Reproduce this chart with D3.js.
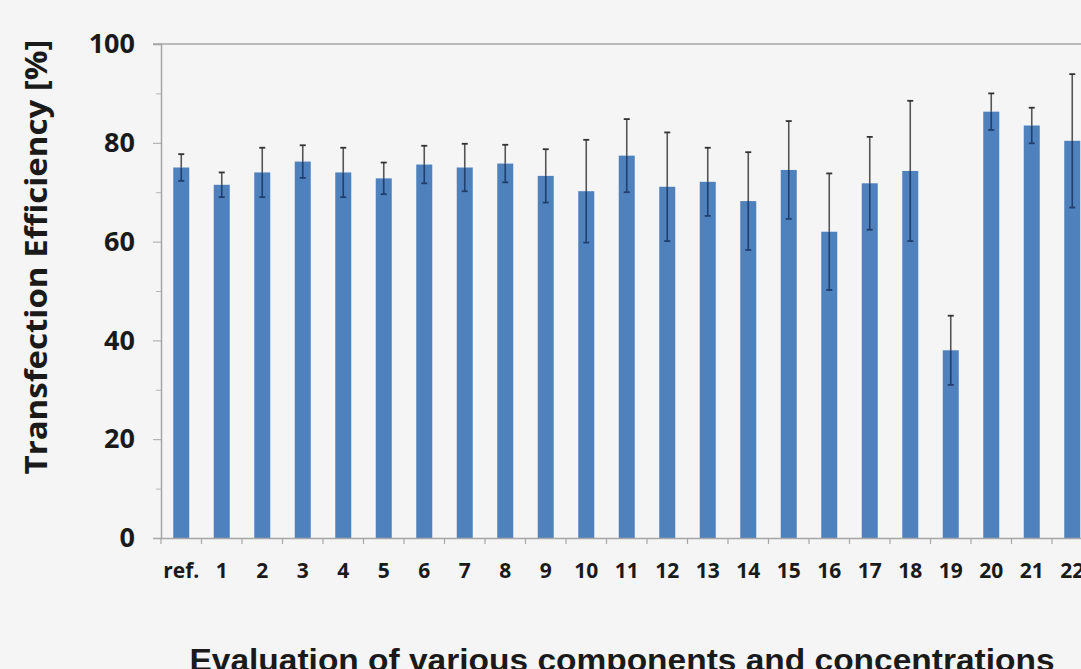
<!DOCTYPE html>
<html>
<head>
<meta charset="utf-8">
<script src="https://cdn.jsdelivr.net/npm/d3@7"></script>
<style>
  html, body { margin: 0; padding: 0; background: #f5f5f5; }
  svg { display: block; }
</style>
</head>
<body>
<svg id="chart" width="1081" height="669"></svg>
<script>
// Transfection efficiency per condition, mean and error (± %)
const categories = ["ref.", "1", "2", "3", "4", "5", "6", "7", "8", "9", "10", "11",
                    "12", "13", "14", "15", "16", "17", "18", "19", "20", "21", "22"];
const efficiency = [75, 71.5, 74, 76.2, 74, 72.8, 75.6, 75, 75.8, 73.3, 70.2, 77.4,
                    71.1, 72.1, 68.2, 74.5, 62, 71.8, 74.3, 38, 86.3, 83.5, 80.4];
const errors = [2.7, 2.5, 5, 3.3, 5, 3.2, 3.8, 4.8, 3.8, 5.4, 10.4, 7.4,
                11, 6.9, 9.9, 9.9, 11.8, 9.4, 14.2, 7, 3.7, 3.6, 13.5];
const yTicks = [0, 20, 40, 60, 80, 100];
const yMinorTicks = [10, 30, 50, 70, 90];

const svg = d3.select("#chart");
const W = 1081, H = 669;

const plotLeft = 161, plotTop = 44, plotBottom = 538;
const bandStep = 40.5;
const plotRight = plotLeft + bandStep * categories.length;

const x = d3.scaleBand().domain(categories).range([plotLeft, plotRight]).paddingInner(0).paddingOuter(0);
const y = d3.scaleLinear().domain([0, 100]).range([plotBottom, plotTop]);

const barW = 16;
const barColor = "#4f81bd";

// top border line at 100
svg.append("line")
  .attr("x1", plotLeft - 8).attr("x2", W)
  .attr("y1", y(100)).attr("y2", y(100))
  .attr("stroke", "#a6a6a6").attr("stroke-width", 1.5);

// bars
svg.append("g").selectAll("rect")
  .data(categories)
  .join("rect")
  .attr("x", (d) => x(d) + x.bandwidth() / 2 - barW / 2)
  .attr("y", (d, i) => y(efficiency[i]))
  .attr("width", barW)
  .attr("height", (d, i) => y(0) - y(efficiency[i]))
  .attr("fill", barColor);

// error bars
const eg = svg.append("g");
categories.forEach((c, i) => {
  const cx = x(c) + x.bandwidth() / 2;
  const hi = y(efficiency[i] + errors[i]);
  const lo = y(efficiency[i] - errors[i]);
  const mid = y(efficiency[i]);
  // upper whisker above the bar
  eg.append("line").attr("x1", cx).attr("x2", cx).attr("y1", hi).attr("y2", mid)
    .attr("stroke", "#555").attr("stroke-width", 1.6);
  // lower whisker inside the bar
  eg.append("line").attr("x1", cx).attr("x2", cx).attr("y1", mid).attr("y2", lo)
    .attr("stroke", "#1f3f6e").attr("stroke-width", 1.6);
  eg.append("line").attr("x1", cx - 3).attr("x2", cx + 3).attr("y1", hi).attr("y2", hi)
    .attr("stroke", "#333").attr("stroke-width", 1.8);
  eg.append("line").attr("x1", cx - 3).attr("x2", cx + 3).attr("y1", lo).attr("y2", lo)
    .attr("stroke", "#1f3f6e").attr("stroke-width", 1.8);
});

// y axis
const yAxis = svg.append("g").attr("transform", `translate(${plotLeft},0)`)
  .call(d3.axisLeft(y).tickValues(yTicks).tickSize(8).tickPadding(18).tickFormat(d3.format("d")));
yAxis.select(".domain").attr("stroke", "#a6a6a6").attr("stroke-width", 1.5);
yAxis.selectAll(".tick line").attr("stroke", "#a6a6a6");
yAxis.selectAll(".tick text")
  .attr("font-family", "'Open Sans', sans-serif").attr("font-weight", "bold")
  .attr("font-size", 27).attr("fill", "#1a1a1a");
svg.append("g").attr("transform", `translate(${plotLeft},0)`)
  .call(d3.axisLeft(y).tickValues(yMinorTicks).tickSize(5).tickFormat(""))
  .call((g) => g.select(".domain").remove())
  .selectAll(".tick line").attr("stroke", "#b5b5b5");

// x axis
const xAxis = svg.append("g").attr("transform", `translate(0,${plotBottom})`)
  .call(d3.axisBottom(x).tickSize(0).tickPadding(25));
xAxis.select(".domain").attr("stroke", "#a6a6a6").attr("stroke-width", 1.5);
xAxis.selectAll(".tick text")
  .attr("font-family", "'Open Sans', sans-serif").attr("font-weight", "bold")
  .attr("font-size", 21).attr("fill", "#1a1a1a");
// boundary ticks between categories
svg.append("g").selectAll("line")
  .data(categories)
  .join("line")
  .attr("x1", (d) => x(d)).attr("x2", (d) => x(d))
  .attr("y1", plotBottom).attr("y2", plotBottom + 6)
  .attr("stroke", "#a6a6a6").attr("stroke-width", 1.2);

// axis titles
svg.append("text")
  .attr("transform", `translate(47,257) rotate(-90)`)
  .attr("text-anchor", "middle")
  .attr("font-family", "'Open Sans', sans-serif").attr("font-weight", "bold")
  .attr("font-size", 31).attr("fill", "#1a1a1a")
  .attr("textLength", 435).attr("lengthAdjust", "spacingAndGlyphs")
  .text("Transfection Efficiency [%]");

svg.append("text")
  .attr("x", 622).attr("y", 671)
  .attr("text-anchor", "middle")
  .attr("font-family", "'Liberation Sans', Arial, sans-serif").attr("font-weight", "bold")
  .attr("font-size", 32).attr("fill", "#1a1a1a")
  .attr("textLength", 865).attr("lengthAdjust", "spacingAndGlyphs")
  .text("Evaluation of various components and concentrations");
</script>
</body>
</html>
